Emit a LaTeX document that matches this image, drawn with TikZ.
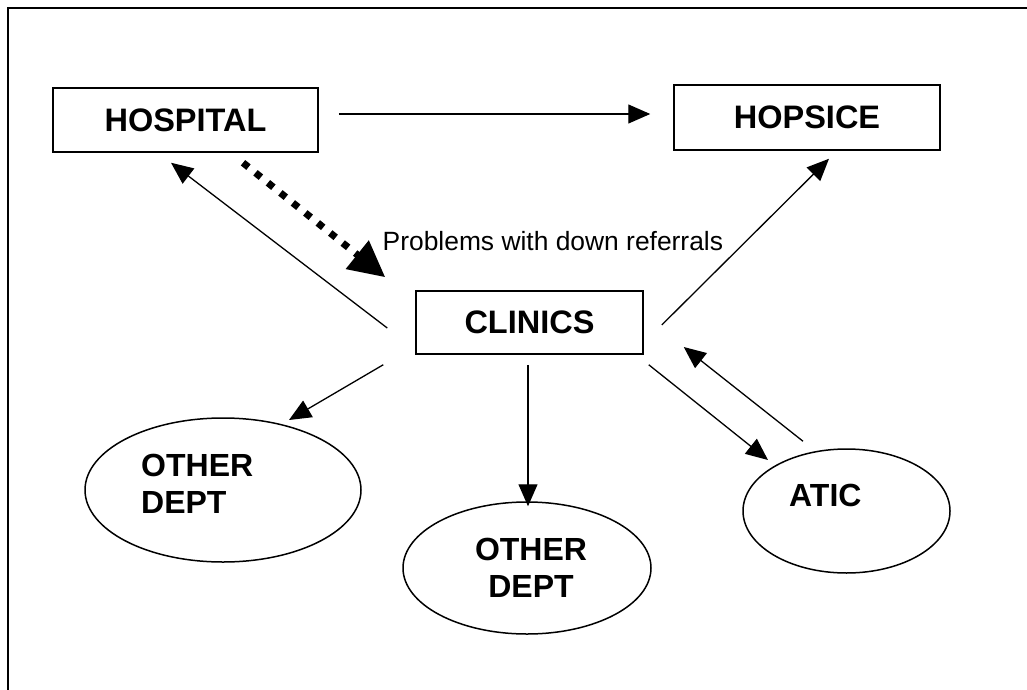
\documentclass[tikz,border=0pt]{standalone}
\usepackage{fontspec}
\setmainfont{Liberation Sans}
\usetikzlibrary{arrows.meta,shapes.geometric,calc}
\begin{document}
\begin{tikzpicture}[x=1pt,y=-1pt,
  box/.style={draw,line width=1.5pt,rectangle,inner sep=0pt,font=\bfseries\fontsize{32.5}{36.5}\selectfont},
  oval/.style={draw,line width=1.5pt,ellipse,inner sep=0pt},
  lbl/.style={font=\bfseries\fontsize{32}{36.5}\selectfont,inner sep=0pt},
  conn/.style={line width=1.3pt,-{Triangle[length=22pt,width=19pt]}},
  dotconn/.style={line width=7pt,dash pattern=on 7pt off 9pt,-{Triangle[length=36pt,width=35pt]}}]
\useasboundingbox (0,0) rectangle (1027,690);
\draw[line width=2pt] (8,692) -- (8,8) -- (1029,8);

\node[box,minimum width=265pt,minimum height=64pt] (hospital) at (185.5,120) {HOSPITAL};
\node[box,minimum width=266pt,minimum height=65pt] (hopsice) at (807,117.5) {HOPSICE};
\node[box,minimum width=227pt,minimum height=63pt] (clinics) at (529.5,322.5) {CLINICS};

\node[oval,minimum width=276pt,minimum height=144pt] (leftoval) at (223,490) {};
\node[oval,minimum width=248pt,minimum height=132pt] (midoval) at (527,568) {};
\node[oval,minimum width=207pt,minimum height=124pt] (aticoval) at (846.5,511) {};

\node[lbl,align=left,anchor=north west] (lefttext) at (141,454) {OTHER\\DEPT};
\node[lbl,align=center,anchor=north] (midtext) at (531,538) {OTHER\\DEPT};
\node[lbl,anchor=base west] (atictext) at (789,506) {ATIC};

\node[anchor=base west,inner sep=0pt,font=\fontsize{26.4}{30}\selectfont] (problabel) at (382.5,250.5) {Problems with down referrals};

\draw[conn] ($(hospital.east)+(20,-6)$) -- ($(hopsice.west)+(-23,-3.5)$);
\draw[dotconn] ($(hospital.south)+(57.5,10)$) -- ($(clinics.north west)+(-30,-13)$);
\draw[conn] ($(clinics.west)+(-28,5.5)$) -- ($(hospital.south)+(-14.5,10)$);
\draw[conn] ($(clinics.east)+(18,2.5)$) -- ($(hopsice.south)+(22,8)$);
\draw[conn] ($(clinics.south west)+(-32,10)$) -- ($(leftoval.center)+(66,-70)$);
\draw[conn] ($(clinics.south)+(-1.5,10)$) -- ($(midoval.north)+(1,5)$);
\draw[conn] ($(clinics.south east)+(5,10)$) -- ($(aticoval.center)+(-78.5,-51)$);
\draw[conn] ($(aticoval.north)+(-43.5,-7)$) -- ($(clinics.east)+(40,24.5)$);
\end{tikzpicture}
\end{document}
